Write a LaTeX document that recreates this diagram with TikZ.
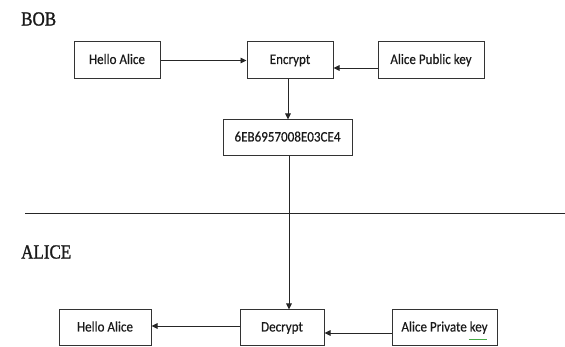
\documentclass[tikz,border=0pt]{standalone}
\usepackage{fontspec}
\setmainfont{Carlito}[FakeStretch=0.9,FakeBold=0.4]
\newfontfamily\lblfont{Liberation Serif}[FakeStretch=0.85,FakeBold=1.2]
\usetikzlibrary{arrows.meta}
\definecolor{spellgreen}{RGB}{70,170,70}
\begin{document}
\begin{tikzpicture}[x=1pt,y=-1pt,
  box/.style={draw=black!80,line width=1pt,inner sep=0pt,minimum height=36pt,
    text height=10pt,text depth=3pt,
    font=\fontsize{14.5}{17}\selectfont,text=black!90},
  arr/.style={draw=black!85,line width=0.9pt,-{Triangle[length=6pt,width=5.5pt]}},
  lbl/.style={anchor=west,inner sep=0pt,font=\lblfont\fontsize{20}{22}\selectfont,text=black!90}]
\useasboundingbox (0,0) rectangle (565,347);
\node[lbl] (bob) at (21,19) {BOB};
\node[lbl] (alice) at (21,252) {ALICE};
\node[box,minimum width=86pt,minimum height=37pt] (hello1) at (117,60.5) {Hello Alice};
\node[box,minimum width=86pt,minimum height=37pt] (encrypt) at (290,60.5) {Encrypt};
\node[box,minimum width=106pt,minimum height=37pt] (pubkey) at (431,60.5) {Alice Public key};
\node[box,minimum width=129pt] (cipher) at (287.5,138) {6EB6957008E03CE4};
\node[box,minimum width=92pt] (hello2) at (105,328) {Hello Alice};
\node[box,minimum width=84pt] (decrypt) at (282,328) {Decrypt};
\node[box,minimum width=105pt] (privkey) at (444.5,328) {Alice Private key};
\draw[spellgreen,line width=0.9pt] ([xshift=24pt,yshift=-11.5pt]privkey.center) -- ([xshift=42pt,yshift=-11.5pt]privkey.center);
\coordinate (lineL) at (25,214);
\coordinate (lineR) at (565,214);
\draw[black!85,line width=1pt] (lineL) -- (lineR);
\draw[arr] (hello1) -- (encrypt);
\draw[arr] ([yshift=-7.5pt]pubkey.west) -- ([yshift=-7.5pt]encrypt.east);
\draw[arr] ([xshift=-2pt]encrypt.south) -- ([xshift=-2pt]encrypt.south |- cipher.north);
\draw[arr] ([xshift=1.5pt]cipher.south) -- ([xshift=1.5pt]cipher.south |- decrypt.north);
\draw[arr] ([yshift=2pt]decrypt.west) -- ([yshift=2pt]hello2.east);
\draw[arr] ([yshift=-5pt]privkey.west) -- ([yshift=-5pt]decrypt.east);
\end{tikzpicture}
\end{document}
